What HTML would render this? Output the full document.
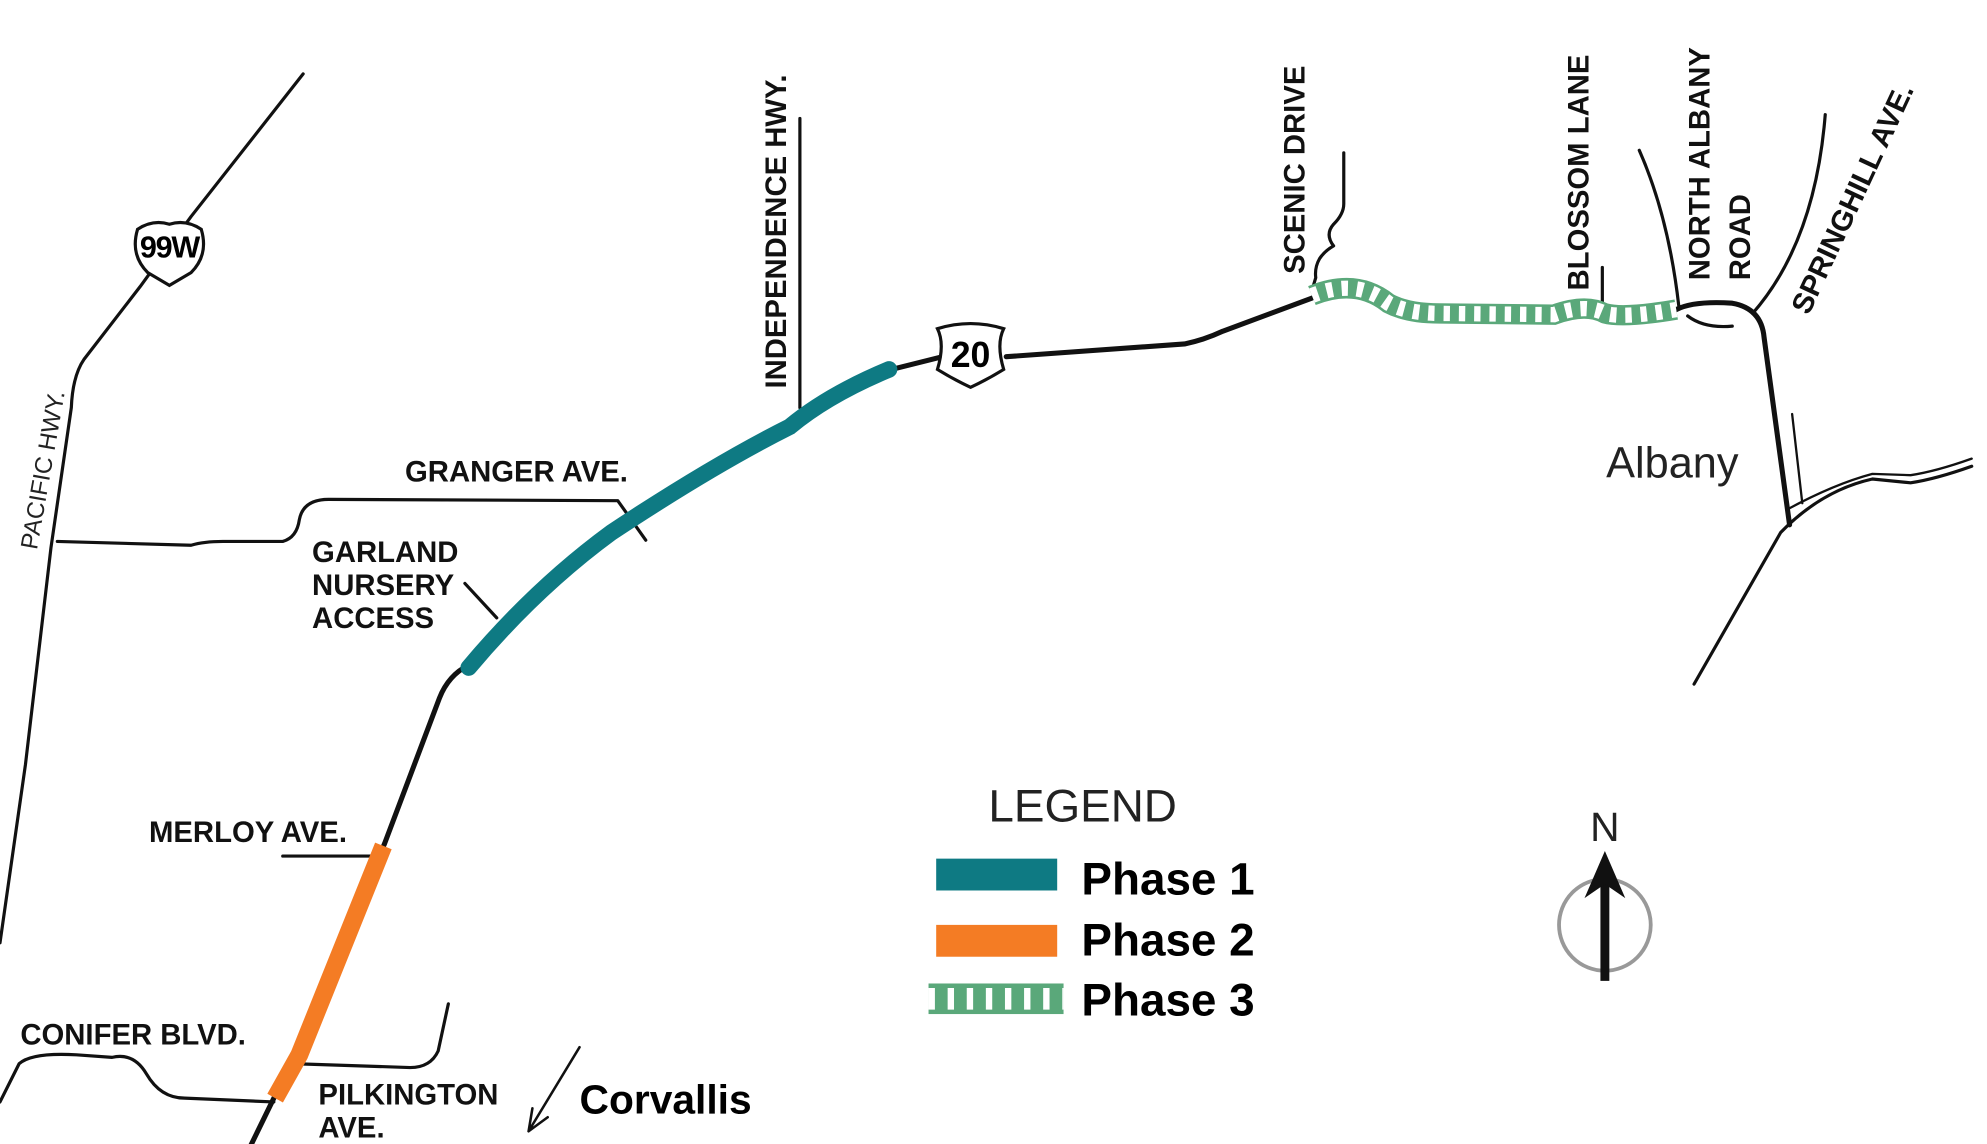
<!DOCTYPE html>
<html><head><meta charset="utf-8"><style>
html,body{margin:0;padding:0;background:#fff;}
svg{display:block;}
text{font-family:"Liberation Sans",sans-serif;}
.b{font-weight:bold;font-size:23px;fill:#111;}
</style></head><body>
<svg width="1987" height="1144" viewBox="0 0 1560 898" preserveAspectRatio="none" xmlns="http://www.w3.org/2000/svg">
<g fill="none" stroke="#111" stroke-width="2.5" stroke-linecap="round" stroke-linejoin="round">
<path d="M238,58 L150,170 L110,225 L66,282 Q57,295 56,320 L40,430 L20,600 L0,740"/>
<path d="M45,425 L150,428 Q160,425 175,425 L222,425 Q233,422 235,408 Q238,392 258,392 L485,393 L507,424"/>
<path d="M628,93 L628,320"/>
<path d="M1055,120 L1055,160 Q1055,168 1047,176 Q1040,184 1047,193 Q1040,197 1036,203 Q1032,210 1033,218 L1030,228"/>
<path d="M1258,210 L1258,240"/>
<path d="M1287,118 Q1310,170 1318,240"/>
<path d="M1325,248 Q1338,258 1360,256"/>
<path d="M1433,90 Q1425,190 1376,246"/>
<path d="M1330,537 L1398,418 Q1430,385 1470,376 L1500,379 Q1520,376 1548,366"/>
<path d="M1403,400 Q1440,380 1470,372 L1500,373 Q1520,370 1548,360" stroke-width="1.8"/>
<path d="M1407,325 L1415,395" stroke-width="1.8"/>
<path d="M222,672 L300,672"/>
<path d="M0,865 L15,835 Q25,826 60,828 L88,830 Q105,826 115,843 Q126,862 145,862 L215,865"/>
<path d="M232,835 L322,838 Q338,838 344,825 L352,788"/>
<path d="M365,458 L390,485"/>
<path d="M195,903 L215,862 L232,828 L302,662 L345,548 Q352,530 368,522" stroke-width="4"/>
<path d="M700,290 L740,280 M790,280 L930,270 Q945,267 960,260 L1030,234" stroke-width="4"/>
<path d="M1316,243 Q1330,236 1360,238 Q1383,242 1385,265 L1405,412" stroke-width="4"/>
<path d="M455,822 L415,888 M415,888 L418,870 M415,888 L430,877" stroke-width="2"/>
</g>
<path d="M368,524 Q420,462 480,418 Q560,365 620,335 Q650,310 698,290" fill="none" stroke="#0e7a83" stroke-width="13" stroke-linecap="round"/>
<path d="M301,664 L235,828 L216,862" fill="none" stroke="#f47c24" stroke-width="14"/>
<path d="M1030,232 Q1065,218 1090,238 Q1105,246 1130,246 L1220,247 Q1245,238 1260,246 Q1275,250 1316,243" fill="none" stroke="#5aa87a" stroke-width="16"/>
<path d="M1030,232 Q1065,218 1090,238 Q1105,246 1130,246 L1220,247 Q1245,238 1260,246 Q1275,250 1316,243" fill="none" stroke="#fff" stroke-width="12" stroke-dasharray="5 7"/>
<path d="M108,180 Q120,172 133,176 Q146,172 158,180 Q164,200 150,214 L133,224 L116,214 Q102,200 108,180Z" fill="#fff" stroke="#111" stroke-width="2.5"/>
<text x="133" y="202" font-size="24" font-weight="bold" text-anchor="middle" letter-spacing="-1">99W</text>
<path d="M736,258 Q762,250 788,258 Q782,270 788,290 Q775,298 762,304 Q749,298 736,290 Q742,270 736,258Z" fill="#fff" stroke="#111" stroke-width="2.5"/>
<text x="762" y="288" font-size="28" font-weight="bold" text-anchor="middle">20</text>
<text x="29" y="432" font-size="19" transform="rotate(-80 29 432)" fill="#222">PACIFIC HWY.</text>
<text class="b" x="318" y="378">GRANGER AVE.</text>
<text class="b" x="245" y="441">GARLAND</text>
<text class="b" x="245" y="467">NURSERY</text>
<text class="b" x="245" y="493">ACCESS</text>
<text class="b" x="117" y="661">MERLOY AVE.</text>
<text class="b" x="16" y="820">CONIFER BLVD.</text>
<text class="b" x="250" y="867">PILKINGTON</text>
<text class="b" x="250" y="893">AVE.</text>
<text x="455" y="874" font-size="32" font-weight="bold">Corvallis</text>
<text class="b" x="617" y="305" transform="rotate(-90 617 305)">INDEPENDENCE HWY.</text>
<text class="b" x="1024" y="215" transform="rotate(-90 1024 215)">SCENIC DRIVE</text>
<text class="b" x="1247" y="228" transform="rotate(-90 1247 228)">BLOSSOM LANE</text>
<text class="b" x="1342" y="220" transform="rotate(-90 1342 220)">NORTH ALBANY</text>
<text class="b" x="1374" y="220" transform="rotate(-90 1374 220)">ROAD</text>
<text class="b" x="1420" y="248" transform="rotate(-65 1420 248)">SPRINGHILL AVE.</text>
<text x="1261" y="375" font-size="34" fill="#222">Albany</text>
<text x="776" y="645" font-size="36" fill="#222">LEGEND</text>
<rect x="735" y="674" width="95" height="25" fill="#0e7a83"/>
<rect x="735" y="726" width="95" height="25" fill="#f47c24"/>
<rect x="729" y="772" width="106" height="24" fill="#5aa87a"/>
<path d="M729,784 L835,784" stroke="#fff" stroke-width="17" stroke-dasharray="5 10"/>
<text x="849" y="702" font-size="36" font-weight="bold">Phase 1</text>
<text x="849" y="750" font-size="36" font-weight="bold">Phase 2</text>
<text x="849" y="797" font-size="36" font-weight="bold">Phase 3</text>
<text x="1260" y="660" font-size="32" text-anchor="middle" fill="#222">N</text>
<circle cx="1260" cy="726" r="36" fill="none" stroke="#999" stroke-width="3"/>
<path d="M1260,770 L1260,690" stroke="#111" stroke-width="7"/>
<path d="M1260,668 L1276,705 L1260,694 L1244,705Z" fill="#111"/>
</svg>
</body></html>
